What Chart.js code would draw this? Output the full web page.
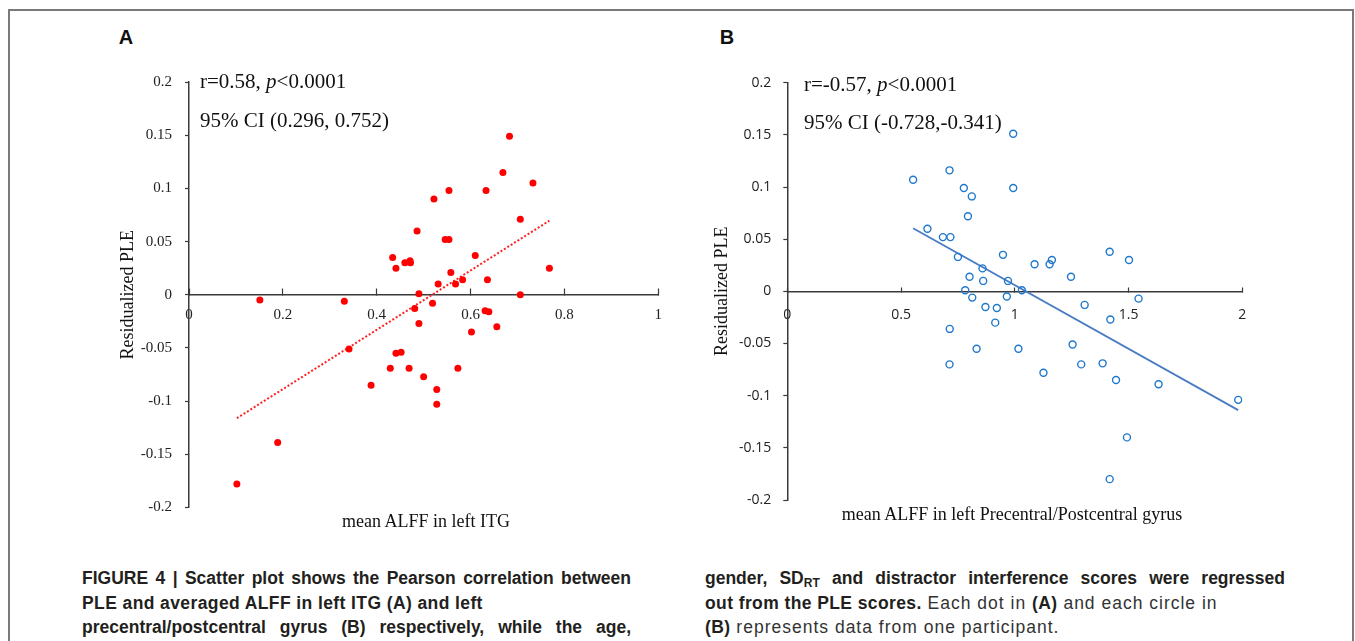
<!DOCTYPE html>
<html>
<head>
<meta charset="utf-8">
<title>Figure 4</title>
<script src="https://cdn.jsdelivr.net/npm/chart.js@4.4.0/dist/chart.umd.min.js"></script>
<style>
  body { margin: 0; width: 1355px; height: 641px; overflow: hidden; background: #fff; position: relative; }
  #frame { position: absolute; left: 8px; top: 9px; width: 1346px; height: 700px; box-sizing: border-box; border: 2px solid #7a7a7a; }
  .letter { position: absolute; font: bold 20px "Liberation Sans", Arial, sans-serif; color: #111; transform: translate(-50%, -50%); }
  .plot { position: absolute; top: 60px; width: 580px; height: 470px; }
  .note { position: absolute; font: 21px "Liberation Serif", "Times New Roman", serif; color: #111; line-height: 24px; white-space: nowrap; }
  .xtitle { position: absolute; font: 18px "Liberation Serif", "Times New Roman", serif; color: #111; line-height: 20px; white-space: nowrap; transform: translate(-50%, -50%); }
  .cap { position: absolute; font: 17.5px "Liberation Sans", Arial, sans-serif; color: #231f20; line-height: 24px; white-space: nowrap; letter-spacing: 0.4px; }
  .cap.just { white-space: normal; text-align: justify; text-align-last: justify; overflow: hidden; height: 24px; letter-spacing: 0; }
  .cap b { font-weight: bold; }
  .cap .r { letter-spacing: 1px; color: #333; }
  .cap sub { font-size: 12px; vertical-align: -3px; line-height: 0; }
</style>
</head>
<body>
<div id="frame"></div>

<div class="letter" style="left:126px; top:37px;">A</div>
<div class="letter" style="left:727px; top:37px;">B</div>

<div class="plot" style="left:100px;"><canvas id="chartA" width="580" height="470"></canvas></div>
<div class="plot" style="left:700px;"><canvas id="chartB" width="580" height="470"></canvas></div>

<div class="note" style="left:200px; top:69px;">r=0.58, <i>p</i>&lt;0.0001</div>
<div class="note" style="left:200px; top:108px;">95% CI (0.296, 0.752)</div>
<div class="note" style="left:804px; top:72px;">r=-0.57, <i>p</i>&lt;0.0001</div>
<div class="note" style="left:804px; top:110px;">95% CI (-0.728,-0.341)</div>

<div class="xtitle" style="left:426px; top:521px;">mean ALFF in left ITG</div>
<div class="xtitle" style="left:1012px; top:514px;">mean ALFF in left Precentral/Postcentral gyrus</div>

<div class="cap just" style="left:82px; top:566px; width:549px;"><b>FIGURE 4 | Scatter plot shows the Pearson correlation between</b></div>
<div class="cap" style="left:82px; top:591px;"><b>PLE and averaged ALFF in left ITG (A) and left</b></div>
<div class="cap just" style="left:82px; top:615px; width:549px;"><b>precentral/postcentral gyrus (B) respectively, while the age,</b></div>

<div class="cap just" style="left:705px; top:566px; width:580px;"><b>gender, SD<sub>RT</sub> and distractor interference scores were regressed</b></div>
<div class="cap" style="left:705px; top:591px;"><b>out from the PLE scores.</b><span class="r"> Each dot in </span><b>(A)</b><span class="r"> and each circle in</span></div>
<div class="cap" style="left:705px; top:615px;"><b>(B)</b><span class="r"> represents data from one participant.</span></div>

<script>
// Panel A: mean ALFF in left ITG vs residualized PLE
const itgX = [0.683, 0.669, 0.733, 0.554, 0.633, 0.522, 0.706, 0.486, 0.546, 0.554,
              0.610, 0.434, 0.441, 0.460, 0.471, 0.472, 0.768, 0.558, 0.531, 0.568,
              0.583, 0.636, 0.490, 0.706, 0.481, 0.519, 0.490, 0.631, 0.639, 0.602,
              0.656, 0.441, 0.452, 0.429, 0.469, 0.573, 0.500, 0.528, 0.528, 0.151,
              0.331, 0.341, 0.388, 0.189, 0.102];
const itgPLE = [0.149, 0.115, 0.105, 0.098, 0.098, 0.090, 0.071, 0.060, 0.052, 0.052,
                0.037, 0.035, 0.025, 0.030, 0.032, 0.030, 0.025, 0.021, 0.010, 0.010,
                0.014, 0.014, 0.001, 0.000, -0.013, -0.008, -0.027, -0.015, -0.016, -0.035,
                -0.030, -0.055, -0.054, -0.069, -0.069, -0.069, -0.077, -0.089, -0.103, -0.005,
                -0.006, -0.051, -0.085, -0.139, -0.178];

// Panel B: mean ALFF in left precentral/postcentral gyrus vs residualized PLE
const pcgX = [0.553, 0.713, 0.776, 0.811, 0.794, 0.616, 0.684, 0.717, 0.750, 0.858,
              0.801, 0.861, 0.782, 0.993, 0.993, 0.948, 1.087, 1.153, 1.163, 1.247,
              1.417, 1.502, 0.970, 1.031, 0.813, 0.871, 0.921, 0.914, 0.714, 0.832,
              0.713, 0.965, 1.544, 1.307, 1.420, 1.016, 1.254, 1.292, 1.386, 1.126,
              1.445, 1.632, 1.982, 1.493, 1.417];
const pcgPLE = [0.107, 0.116, 0.099, 0.091, 0.072, 0.060, 0.052, 0.052, 0.033, 0.022,
                0.014, 0.010, 0.001, 0.151, 0.099, 0.035, 0.026, 0.026, 0.030, 0.014,
                0.038, 0.030, 0.010, 0.001, -0.006, -0.015, -0.016, -0.030, -0.036, -0.055,
                -0.070, -0.005, -0.007, -0.013, -0.027, -0.055, -0.051, -0.070, -0.069, -0.078,
                -0.085, -0.089, -0.104, -0.140, -0.180];

// Tick labels
const yTicks = [-0.2, -0.15, -0.1, -0.05, 0, 0.05, 0.1, 0.15, 0.2];
const xTicksA = [0, 0.2, 0.4, 0.6, 0.8, 1];
const xTicksB = [0, 0.5, 1, 1.5, 2];

// least squares line over the range of x
function fitLine(xs, ys) {
  const n = xs.length;
  const mx = xs.reduce((a, b) => a + b, 0) / n;
  const my = ys.reduce((a, b) => a + b, 0) / n;
  let sxy = 0, sxx = 0;
  xs.forEach((x, i) => { sxy += (x - mx) * (ys[i] - my); sxx += (x - mx) * (x - mx); });
  const slope = sxy / sxx;
  const icpt = my - slope * mx;
  const x0 = Math.min(...xs), x1 = Math.max(...xs);
  return [{ x: x0, y: icpt + slope * x0 }, { x: x1, y: icpt + slope * x1 }];
}

const fmt = v => String(+(+v).toFixed(2));
const axisColor = '#3a3a3a';

function makeChart(id, cfg) {
  const pts = cfg.xs.map((x, i) => ({ x: x, y: cfg.ys[i] }));
  return new Chart(document.getElementById(id), {
    type: 'scatter',
    data: {
      datasets: [
        {
          data: pts,
          pointRadius: 3.5,
          pointHoverRadius: 3.5,
          pointBackgroundColor: cfg.fill,
          pointBorderColor: cfg.stroke,
          pointBorderWidth: cfg.strokeW
        },
        {
          type: 'line',
          data: fitLine(cfg.xs, cfg.ys),
          borderColor: cfg.lineColor,
          borderWidth: cfg.lineW,
          borderDash: cfg.dash,
          pointRadius: 0,
          fill: false,
          tension: 0
        }
      ]
    },
    options: {
      responsive: false,
      animation: false,
      devicePixelRatio: 1,
      layout: { padding: cfg.pad },
      plugins: { legend: { display: false }, tooltip: { enabled: false } },
      scales: {
        x: {
          type: 'linear',
          position: { y: 0 },
          min: cfg.xTicks[0],
          max: cfg.xTicks[cfg.xTicks.length - 1],
          afterBuildTicks: s => { s.ticks = cfg.xTicks.map(v => ({ value: v })); },
          afterFit: s => { s.height = 0; },
          border: { display: true, color: axisColor, width: 1.5 },
          grid: { drawOnChartArea: false, drawTicks: true, tickLength: -cfg.xTickLen, color: axisColor, tickWidth: 1.2 },
          ticks: { color: '#222', font: cfg.tickFont, padding: cfg.xPad, maxRotation: 0, autoSkip: false, callback: fmt }
        },
        y: {
          type: 'linear',
          min: yTicks[0],
          max: yTicks[yTicks.length - 1],
          afterBuildTicks: s => { s.ticks = yTicks.map(v => ({ value: v })); },
          afterFit: s => { s.width = cfg.yWidth; },
          border: { display: true, color: axisColor, width: 1.5 },
          grid: { drawOnChartArea: false, drawTicks: true, tickLength: 4, color: axisColor, tickWidth: 1.2 },
          ticks: { color: '#222', font: cfg.tickFont, padding: cfg.yPad, autoSkip: false, callback: fmt },
          title: {
            display: true,
            text: 'Residualized PLE',
            color: '#111',
            font: { family: 'Liberation Serif', size: 18 },
            padding: { top: cfg.titlePad, bottom: 0 }
          }
        }
      }
    }
  });
}

makeChart('chartA', {
  xs: itgX, ys: itgPLE, xTicks: xTicksA,
  fill: '#ff0000', stroke: '#ff0000', strokeW: 0,
  lineColor: '#ff2020', lineW: 2, dash: [2, 2],
  pad: { top: 18, left: 0, right: 16, bottom: 22.5 },
  yWidth: 89, xTickLen: 7, xPad: 18, yPad: 13,
  tickFont: { family: 'Liberation Serif', size: 15 },
  titlePad: 17
});

makeChart('chartB', {
  xs: pcgX, ys: pcgPLE, xTicks: xTicksB,
  fill: 'rgba(0,0,0,0)', stroke: '#1f78cc', strokeW: 1.4,
  lineColor: '#4a7cc4', lineW: 1.8, dash: [],
  pad: { top: 22.7, left: 0, right: 37.7, bottom: 30 },
  yWidth: 87.3, xTickLen: 5, xPad: 20, yPad: 12,
  tickFont: { family: 'Open Sans', size: 14 },
  titlePad: 11
});
</script>
</body>
</html>
